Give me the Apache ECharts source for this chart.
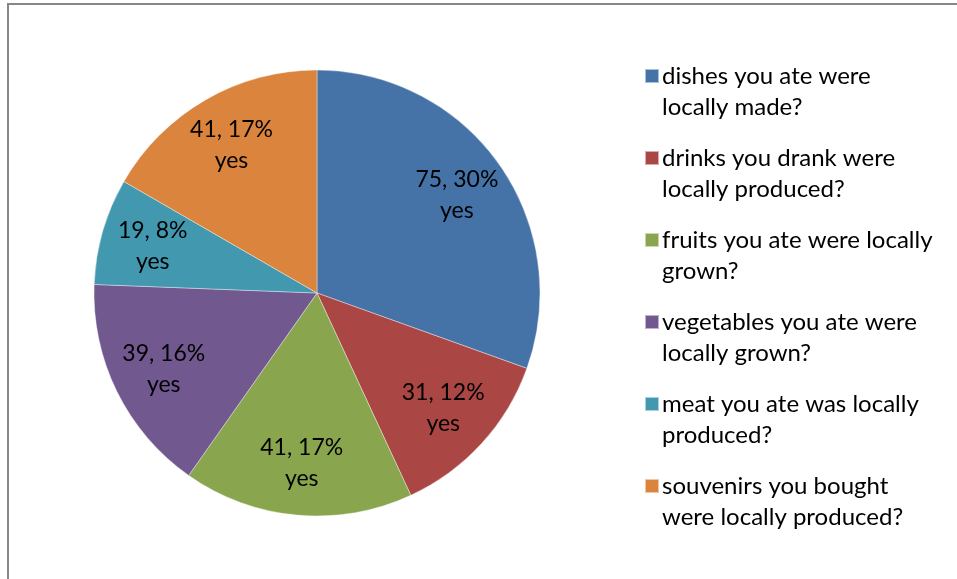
<!DOCTYPE html>
<html>
<head>
<meta charset="utf-8">
<script src="https://cdn.jsdelivr.net/npm/echarts@6/dist/echarts.min.js"></script>
<style>
  html, body { margin: 0; padding: 0; background: #ffffff; }
  #chart { width: 957px; height: 579px; }
</style>
</head>
<body>
<div id="chart"></div>
<script>
// Survey answers: how many respondents said "yes" to each question
const questions = [
  'dishes you ate were\nlocally made?',
  'drinks you drank were\nlocally produced?',
  'fruits you ate were locally\ngrown?',
  'vegetables you ate were\nlocally grown?',
  'meat you ate was locally\nproduced?',
  'souvenirs you bought\nwere locally produced?'
];
const yesCounts = [75, 31, 41, 39, 19, 41];
const answerLabel = 'yes';
const sliceColors = ['#4572A7', '#AA4643', '#89A54E', '#71588F', '#4198AF', '#DB843D'];

const FONT = 'Lato, "Open Sans", "Noto Sans", sans-serif';

const sliceData = questions.map((q, i) => ({
  name: q,
  value: yesCounts[i],
  itemStyle: { color: sliceColors[i] }
}));

// Legend marker: square aligned with the first text line of a two-line entry
const legendIcon = 'path://M0,0L0,0M0,62L0,62M0,8L14,8L14,22L0,22Z';

const chart = echarts.init(document.getElementById('chart'), null, { renderer: 'canvas' });
chart.setOption({
  animation: false,
  backgroundColor: '#ffffff',
  graphic: [{
    type: 'rect',
    shape: { x: 8, y: 4, width: 1200, height: 1200 },
    style: { fill: 'none', stroke: '#878787', lineWidth: 2 },
    silent: true
  }],
  legend: {
    orient: 'vertical',
    left: 639,
    top: 55,
    itemWidth: 14,
    itemHeight: 62,
    itemGap: 18,
    icon: legendIcon,
    selectedMode: false,
    data: questions,
    textStyle: {
      fontFamily: FONT,
      fontSize: 24,
      lineHeight: 31,
      color: '#000000',
      padding: [0, 0, 0, -2]
    }
  },
  series: [
    {
      type: 'pie',
      center: [317, 293],
      radius: [0, 223],
      startAngle: 90,
      clockwise: true,
      silent: true,
      percentPrecision: 0,
      itemStyle: { borderColor: 'rgba(255,255,255,0.55)', borderWidth: 0.7 },
      label: { show: false },
      labelLine: { show: false },
      emphasis: { disabled: true },
      data: sliceData
    },
    {
      // transparent ring carrying the data labels further out along each slice
      type: 'pie',
      center: [317, 293],
      radius: [113, 223],
      startAngle: 90,
      clockwise: true,
      silent: true,
      percentPrecision: 0,
      itemStyle: { color: 'rgba(0,0,0,0)', borderWidth: 0 },
      emphasis: { disabled: true },
      label: {
        show: true,
        position: 'inside',
        formatter: '{c}, {d}%\n' + answerLabel,
        fontFamily: FONT,
        fontSize: 23,
        lineHeight: 31,
        color: '#000000'
      },
      labelLine: { show: false },
      data: yesCounts.map((v, i) => ({ name: questions[i], value: v }))
    }
  ]
});
</script>
</body>
</html>
